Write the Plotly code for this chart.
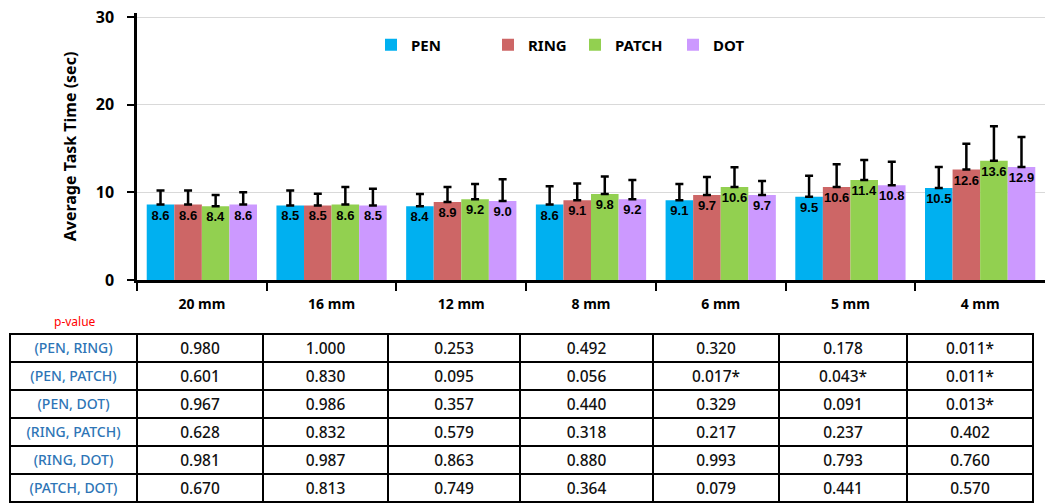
import plotly.graph_objects as go

categories = ["20 mm", "16 mm", "12 mm", "8 mm", "6 mm", "5 mm", "4 mm"]
series = ["PEN", "RING", "PATCH", "DOT"]
pen = [8.6, 8.5, 8.4, 8.6, 9.1, 9.5, 10.5]
ring = [8.6, 8.5, 8.9, 9.1, 9.7, 10.6, 12.6]
patch = [8.4, 8.6, 9.2, 9.8, 10.6, 11.4, 13.6]
dot = [8.6, 8.5, 9.0, 9.2, 9.7, 10.8, 12.9]
pen_err = [1.6, 1.7, 1.4, 2.1, 1.85, 2.4, 2.4]
ring_err = [1.6, 1.35, 1.7, 1.9, 2.05, 2.6, 2.95]
patch_err = [1.3, 2.0, 1.75, 2.0, 2.25, 2.3, 3.95]
dot_err = [1.4, 1.9, 2.5, 2.2, 1.6, 2.7, 3.4]
colors = ["#00B0F0", "#CD6666", "#92D050", "#CC99FF"]

pairs = ["(PEN, RING)", "(PEN, PATCH)", "(PEN, DOT)", "(RING, PATCH)", "(RING, DOT)", "(PATCH, DOT)"]
p_20 = ["0.980", "0.601", "0.967", "0.628", "0.981", "0.670"]
p_16 = ["1.000", "0.830", "0.986", "0.832", "0.987", "0.813"]
p_12 = ["0.253", "0.095", "0.357", "0.579", "0.863", "0.749"]
p_8 = ["0.492", "0.056", "0.440", "0.318", "0.880", "0.364"]
p_6 = ["0.320", "0.017*", "0.329", "0.217", "0.993", "0.079"]
p_5 = ["0.178", "0.043*", "0.091", "0.237", "0.793", "0.441"]
p_4 = ["0.011*", "0.011*", "0.013*", "0.402", "0.760", "0.570"]

# body margin is removed in the page (post_script), so the figure sits at (0, 0)
W, H = 1049, 504

# y axis: 0 at y=280, 30 at y=17
Y0, Y30 = 280, 17
unit = (Y0 - Y30) / 30.0
TOP = 13  # y of plot-area top
ymax = 30 + (Y30 - TOP) / unit

ml, mr, mt, mb = 10, 4, TOP, 0
pw, ph = W - ml - mr, H - mt - mb


def fx(xw):  # pixel x -> paper fraction
    return (xw - ml) / pw


def fy(yw):
    return (H - mb - yw) / ph


legend_x = [386, 503, 590, 688]  # left edge of each legend swatch
legend_ids = ["legend", "legend2", "legend3", "legend4"]

fig = go.Figure()
values = [pen, ring, patch, dot]
errs = [pen_err, ring_err, patch_err, dot_err]
for name, v, e, c, lg in zip(series, values, errs, colors, legend_ids):
    fig.add_trace(go.Bar(
        x=categories, y=v, name=name, marker=dict(color=c, line=dict(width=0)),
        text=[f"{a:.1f}" for a in v], textposition="inside", insidetextanchor="end",
        textangle=0, constraintext="none",
        textfont=dict(family="Liberation Sans", size=13, color="black", weight="bold"),
        error_y=dict(type="data", array=e, arrayminus=[0]*len(e), symmetric=False,
                     color="black", thickness=2.5, width=4),
        xaxis="x", yaxis="y", legend=lg,
    ))

# table
cols = [pairs, p_20, p_16, p_12, p_8, p_6, p_5, p_4]
header_vals = [c[0] for c in cols]
cell_vals = [c[1:] for c in cols]
font_cols = ["#2E75B6"] + ["#111111"] * 7
font_sizes = [14] + [15.5] * 7
fig.add_trace(go.Table(
    domain=dict(x=[0, fx(1033)], y=[0, fy(334)]),
    columnwidth=[127, 126, 125, 132, 133, 126, 128, 126],
    header=dict(values=header_vals, height=28, align="center",
                fill=dict(color="white"), line=dict(color="black", width=2.5),
                font=dict(family="Noto Sans", size=font_sizes, color=font_cols, weight=500)),
    cells=dict(values=cell_vals, height=28, align="center",
               fill=dict(color="white"), line=dict(color="black", width=2.5),
               font=dict(family="Noto Sans", size=font_sizes, color=font_cols, weight=500)),
))

fig.add_annotation(text="p-value", xref="paper", yref="paper",
                   x=fx(75), y=fy(321), xanchor="center", yanchor="middle", showarrow=False,
                   font=dict(family="Noto Sans", size=12, color="#FF0000"))

legend_style = dict(orientation="h", xanchor="left", yanchor="middle", y=fy(45),
                    font=dict(family="Noto Sans", size=15, color="black", weight="bold"),
                    itemwidth=30, bgcolor="rgba(0,0,0,0)")
legends = {lg: dict(legend_style, x=fx(lx - 15)) for lg, lx in zip(legend_ids, legend_x)}

fig.update_layout(
    width=W, height=H, margin=dict(l=ml, r=mr, t=mt, b=mb, autoexpand=False),
    paper_bgcolor="white", plot_bgcolor="white",
    barmode="group", bargap=0.15, bargroupgap=0,
    font=dict(family="Noto Sans", color="black"),
    showlegend=True,
    xaxis=dict(domain=[fx(137), 1], showline=True, linecolor="black", linewidth=2.5,
               ticks="outside", tickson="boundaries", ticklen=8, tickwidth=2, tickcolor="black",
               tickfont=dict(family="Noto Sans", size=14, color="black", weight="bold"),
               ticklabelstandoff=9, anchor="y", automargin=False),
    yaxis=dict(domain=[fy(Y0), 1], range=[0, ymax], tickmode="array", tickvals=[0, 10, 20, 30],
               ticktext=["0", "10", "20", "30"],
               showline=True, linecolor="black", linewidth=2.5, ticks="outside", ticklen=7,
               tickwidth=2, tickcolor="black", showgrid=True, gridcolor="#D9D9D9", gridwidth=1,
               zeroline=False, automargin=False, ticklabelstandoff=10, ticklabeloverflow="allow",
               tickfont=dict(family="Noto Sans", size=16, color="black", weight="bold"),
               title=dict(text="Average Task Time (sec)", standoff=16,
                          font=dict(family="Noto Sans", size=16, color="black", weight="bold")),
               anchor="x"),
    **legends,
)

fig.write_html("out.html", config={"displayModeBar": False},
               post_script="document.body.style.margin='0';")
